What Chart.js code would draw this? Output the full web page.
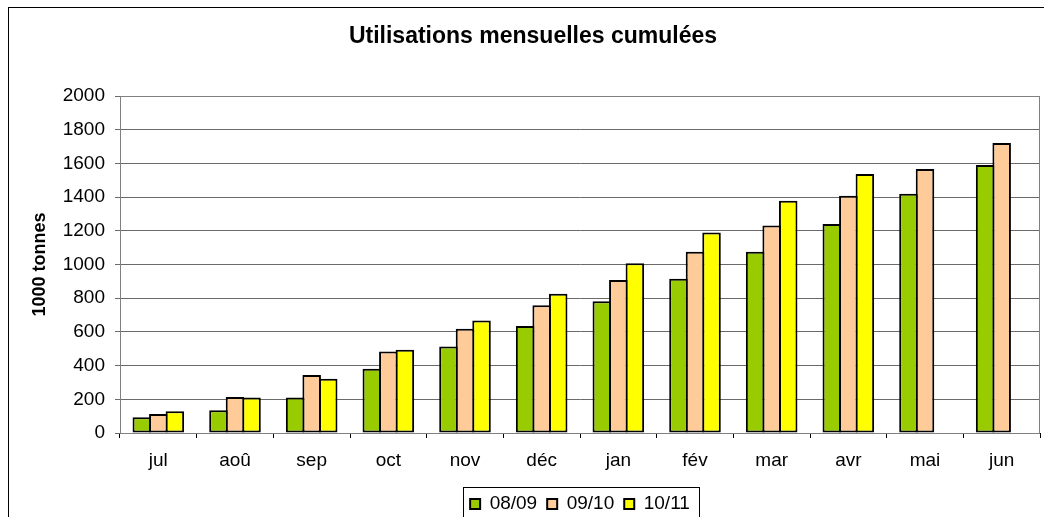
<!DOCTYPE html>
<html>
<head>
<meta charset="utf-8">
<script src="https://cdn.jsdelivr.net/npm/chart.js@4/dist/chart.umd.min.js"></script>
<style>
    body { margin: 0; background: #ffffff; }
    #wrap { width: 1044px; height: 517px; }
</style>
</head>
<body>
<div id="wrap"><canvas id="chart_canvas" width="1044" height="517"></canvas></div>
<script>
var months = ['jul', 'aoû', 'sep', 'oct', 'nov', 'déc', 'jan', 'fév', 'mar', 'avr', 'mai', 'jun'];
var season_labels = ['08/09', '09/10', '10/11'];
var season_0809 = [93, 135, 210, 382, 514, 635, 782, 916, 1076, 1240, 1420, 1590];
var season_0910 = [113, 214, 344, 483, 619, 758, 908, 1076, 1232, 1408, 1567, 1721];
var season_1011 = [129, 210, 322, 494, 667, 827, 1007, 1190, 1379, 1537, null, null];
var y_ticks = [0, 200, 400, 600, 800, 1000, 1200, 1400, 1600, 1800, 2000];

var font_family = "'Liberation Sans', Arial, Helvetica, sans-serif";

//white background, outer chart border, plot area border and legend box
var framePlugin = {
    id: 'frame',
    beforeDraw: function(chart){
        var ctx = chart.ctx;
        ctx.save();
        ctx.fillStyle = '#ffffff';
        ctx.fillRect(0, 0, chart.width, chart.height);
        ctx.strokeStyle = '#000000';
        ctx.lineWidth = 1;
        ctx.strokeRect(8.5, 7.5, chart.width + 20, chart.height + 20);
        ctx.restore();
    },
    beforeDatasetsDraw: function(chart){
        var a = chart.chartArea;
        var ctx = chart.ctx;
        ctx.save();
        ctx.strokeStyle = '#808080';
        ctx.lineWidth = 1;
        ctx.strokeRect(Math.round(a.left) + 0.5, Math.round(a.top) + 0.5, Math.round(a.right - a.left) - 1, Math.round(a.bottom - a.top));
        ctx.restore();
    },
    afterDraw: function(chart){
        var boxes = chart.legend.legendHitBoxes;
        if(!boxes || !boxes.length){ return; }
        var minX = boxes[0].left, maxX = 0, top = boxes[0].top;
        for(var i=0; i<boxes.length; i++){
            minX = Math.min(minX, boxes[i].left);
            maxX = Math.max(maxX, boxes[i].left + boxes[i].width);
        }
        var ctx = chart.ctx;
        ctx.save();
        ctx.strokeStyle = '#000000';
        ctx.lineWidth = 1;
        ctx.strokeRect(Math.round(minX - 7) + 0.5, Math.round(top - 7.5) + 0.5, Math.round(maxX - minX + 16), 60);
        ctx.restore();
    }
};

var bar_style = {
    borderColor: '#000000',
    borderWidth: 2,
    borderSkipped: false,
    categoryPercentage: 0.647,
    barPercentage: 1.121
};

var chart = new Chart(document.getElementById('chart_canvas').getContext('2d'), {
    type: 'bar',
    data: {
        labels: months,
        datasets: [
            Object.assign({ label: season_labels[0], data: season_0809, backgroundColor: '#99cc00' }, bar_style),
            Object.assign({ label: season_labels[1], data: season_0910, backgroundColor: '#ffcc99' }, bar_style),
            Object.assign({ label: season_labels[2], data: season_1011, backgroundColor: '#ffff00' }, bar_style)
        ]
    },
    options: {
        responsive: false,
        animation: false,
        layout: {
            padding: { left: 26, right: 4, top: 0, bottom: -6.5 }
        },
        scales: {
            x: {
                grid: {
                    offset: true,
                    drawOnChartArea: false,
                    drawTicks: true,
                    tickLength: 5,
                    color: '#000000'
                },
                border: { color: '#000000', width: 1 },
                ticks: {
                    color: '#000000',
                    padding: 11,
                    font: { family: font_family, size: 19 }
                },
                afterFit: function(scale){ scale.height = 51.5; }
            },
            y: {
                min: 0,
                max: 2000,
                afterBuildTicks: function(scale){
                    scale.ticks = y_ticks.map(function(v){ return { value: v }; });
                },
                grid: {
                    color: '#6a6a6a',
                    tickLength: 5
                },
                border: { color: '#000000', width: 1 },
                ticks: {
                    color: '#000000',
                    padding: 10,
                    font: { family: font_family, size: 19 },
                    callback: function(value){ return String(value); }
                },
                title: {
                    display: true,
                    text: '1000 tonnes',
                    color: '#000000',
                    padding: { top: 3, bottom: 0 },
                    font: { family: font_family, size: 18, weight: 'bold' }
                },
                afterFit: function(scale){ scale.width = 94; }
            }
        },
        plugins: {
            title: {
                display: true,
                text: 'Utilisations mensuelles cumulées',
                color: '#000000',
                padding: { top: 23, bottom: 45.4 },
                font: { family: font_family, size: 23, weight: 'bold' }
            },
            legend: {
                position: 'bottom',
                fullSize: false,
                labels: {
                    color: '#000000',
                    boxWidth: 10,
                    boxHeight: 10,
                    padding: 10,
                    font: { family: font_family, size: 19 }
                }
            },
            tooltip: { enabled: false }
        }
    },
    plugins: [framePlugin]
});
</script>
</body>
</html>
